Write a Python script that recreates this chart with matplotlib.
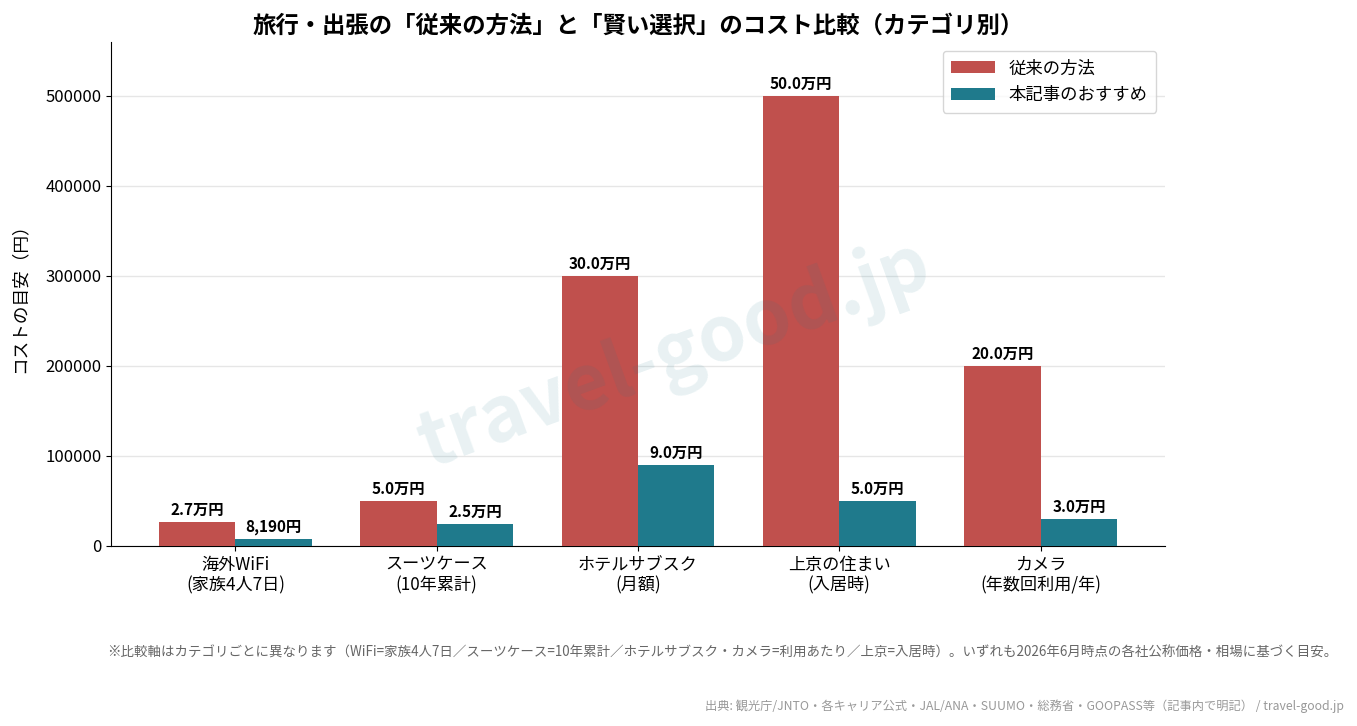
import numpy as np
import matplotlib.pyplot as plt

plt.rcParams['font.family'] = ['Noto Sans CJK JP', 'DejaVu Sans']

categories = ["海外WiFi\n(家族4人7日)", "スーツケース\n(10年累計)", "ホテルサブスク\n(月額)",
              "上京の住まい\n(入居時)", "カメラ\n(年数回利用/年)"]
traditional = [27000, 50000, 300000, 500000, 200000]
recommended = [8190, 25000, 90000, 50000, 30000]
trad_labels = ["2.7万円", "5.0万円", "30.0万円", "50.0万円", "20.0万円"]
rec_labels = ["8,190円", "2.5万円", "9.0万円", "5.0万円", "3.0万円"]

fig = plt.figure(figsize=(13.57, 7.26), dpi=100)
ax = fig.add_axes([111/1357, 1-546/726, (1165-111)/1357, (546-42)/726])

x = np.arange(len(categories))
w = 0.38
b1 = ax.bar(x - w/2, traditional, w, color="#c0504d", label="従来の方法", zorder=3)
b2 = ax.bar(x + w/2, recommended, w, color="#1f7a8c", label="本記事のおすすめ", zorder=3)

for rect, lab in zip(b1, trad_labels):
    ax.text(rect.get_x() + rect.get_width()/2, rect.get_height() + 4500, lab,
            ha="center", va="bottom", fontsize=11, fontweight="bold")
for rect, lab in zip(b2, rec_labels):
    ax.text(rect.get_x() + rect.get_width()/2, rect.get_height() + 4500, lab,
            ha="center", va="bottom", fontsize=11, fontweight="bold")

ax.set_ylim(0, 560000)
ax.set_xticks(x)
ax.set_xticklabels(categories, fontsize=12.3)
ax.tick_params(axis="y", labelsize=12)
ax.set_ylabel("コストの目安（円）", fontsize=12.7, labelpad=12)
ax.yaxis.grid(True, color="#e6e6e6", linewidth=1, zorder=0)
ax.spines["top"].set_visible(False)
ax.spines["right"].set_visible(False)
ax.legend(loc="upper right", fontsize=12.5, handlelength=2.5, borderpad=0.5)

ax.set_title("旅行・出張の「従来の方法」と「賢い選択」のコスト比較（カテゴリ別）",
             fontsize=16.8, fontweight="bold", pad=7)

fig.text(0.497, 0.51, "travel-good.jp", fontsize=55, fontweight="bold", color="#1f7a8c",
         alpha=0.1, rotation=20, ha="center", va="center")

fig.text(1337/1357, 1-653/726,
         "※比較軸はカテゴリごとに異なります（WiFi=家族4人7日／スーツケース=10年累計／ホテルサブスク・カメラ=利用あたり／上京=入居時）。いずれも2026年6月時点の各社公称価格・相場に基づく目安。",
         ha="right", va="center", fontsize=9.7, color="#666666")
fig.text(1344/1357, 1-706/726,
         "出典: 観光庁/JNTO・各キャリア公式・JAL/ANA・SUUMO・総務省・GOOPASS等（記事内で明記） / travel-good.jp",
         ha="right", va="center", fontsize=8.8, color="#999999")

fig.savefig("out.png", dpi=100)
